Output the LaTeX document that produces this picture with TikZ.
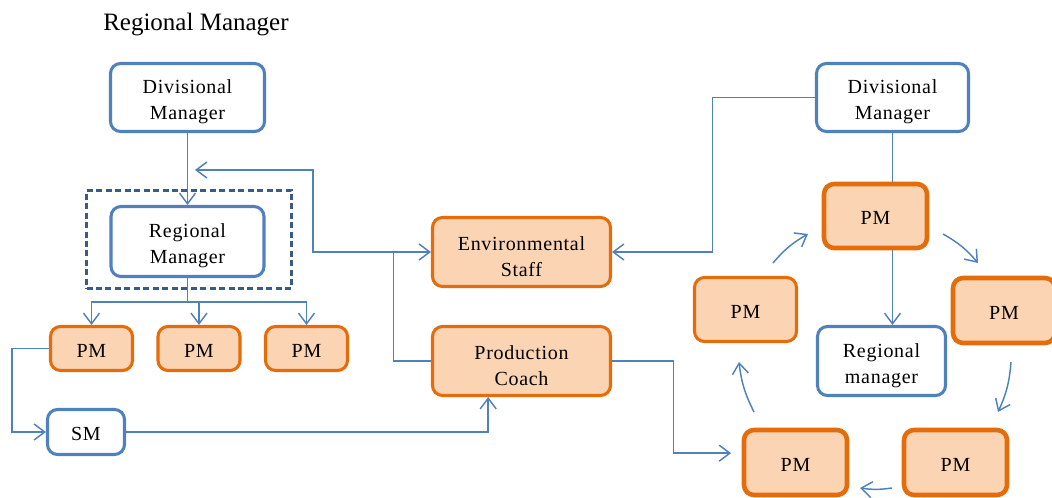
\documentclass[tikz,border=0pt]{standalone}
\usepackage{fontspec}
\setmainfont{Liberation Serif}
\newfontfamily\boxfont[LetterSpace=3.5]{Liberation Serif}
\usetikzlibrary{arrows.meta}
\definecolor{lineblue}{HTML}{4F81BD}
\definecolor{dashblue}{HTML}{3A5A88}
\definecolor{pmedge}{HTML}{E46C0A}
\definecolor{pmfill}{HTML}{FBD4B4}
% taller first line, so that two-line labels sit a little low in their boxes
\newcommand\tallstrut{\rule{0pt}{17pt}}
\newcommand\onestrut{\rule{0pt}{13pt}}
\begin{document}
\begin{tikzpicture}[x=0.75pt,y=-0.75pt,
  sz/.style 2 args={minimum width=#1*0.75pt, minimum height=#2*0.75pt},
  basebox/.style={rounded corners=7.5pt, align=center, inner sep=0pt,
    font=\boxfont\fontsize{15}{19.5}\selectfont},
  bluebox/.style={basebox, draw=lineblue, line width=2.3pt, fill=white},
  pmbox/.style={basebox, draw=pmedge, line width=2.3pt, fill=pmfill},
  pmthick/.style={pmbox, line width=3.4pt},
  group/.style={draw=dashblue, line width=2.2pt, dash pattern=on 4.5pt off 2.6pt},
  conn/.style={draw=lineblue, line width=1.1pt},
  arr/.style={conn, -{Straight Barb[length=8pt,width=12pt,line width=1.1pt]}},
]
\useasboundingbox (0,0) rectangle (1052,498);

% heading
\node[anchor=base west, inner sep=0pt, font=\fontsize{18.75}{22}\selectfont] (title) at (103,31) {Regional Manager};

% left hierarchy
\node[bluebox, sz={154}{68}] (dmL) at (187.5,97.5) {\tallstrut Divisional\\Manager};
\node[group, sz={205}{98}] (grp) at (189,239.5) {};
\node[bluebox, sz={153}{70}] (rmL) at (187.5,241.5) {\tallstrut Regional\\Manager};
\node[pmbox, sz={82}{44}] (pm1) at (91.5,348.5) {\onestrut PM};
\node[pmbox, sz={82}{44}] (pm2) at (199,348.5) {\onestrut PM};
\node[pmbox, sz={82}{44}] (pm3) at (306.5,348.5) {\onestrut PM};
\node[bluebox, sz={77}{45}] (sm) at (86,432) {\onestrut SM};

% middle
\node[pmbox, sz={178}{69}] (es) at (521.5,252) {\tallstrut Environmental\\Staff};
\node[pmbox, sz={178}{69}] (pc) at (521.5,361) {\tallstrut Production\\Coach};

% right cycle
\node[bluebox, sz={152}{68}] (dmR) at (892.5,97.5) {\tallstrut Divisional\\Manager};
\node[pmthick, sz={103}{64}] (pmT) at (875.5,216) {\onestrut PM};
\node[pmbox, sz={102}{64}] (pmL) at (745.5,309.5) {\onestrut PM};
\node[pmthick, sz={102}{65}] (pmR) at (1004,310.5) {\onestrut PM};
\node[bluebox, sz={128}{69}] (rmR) at (881.5,361) {\tallstrut Regional\\manager};
\node[pmthick, sz={103}{65}] (pmBL) at (795.5,462.5) {\onestrut PM};
\node[pmthick, sz={103}{65}] (pmBR) at (955.5,462.5) {\onestrut PM};

% junctions and free ends
\coordinate (bus) at (187.5,302);
\coordinate (j1) at (395,252);
\coordinate (fbtip) at (195,170);
\coordinate (c1a) at (773,263);  \coordinate (c1b) at (808,234);
\coordinate (c2a) at (943,234);  \coordinate (c2b) at (978,263);
\coordinate (c3a) at (1011,362); \coordinate (c3b) at (998,412);
\coordinate (c4a) at (892,488);  \coordinate (c4b) at (860,488);
\coordinate (c5a) at (754,412);  \coordinate (c5b) at (739,362);

% left connectors
\draw[arr] (dmL) -- (rmL);
\draw[conn] (rmL.south) -- (bus);
\draw[arr] (bus) -| (pm1);
\draw[arr] (bus) -| (pm2);
\draw[arr] (bus) -| (pm3);
\draw[arr] (pm1.west) -- ++(-37,0) |- (sm.west);
\draw[arr] (sm.east) -| ([xshift=-25pt]pc.south);

% middle connectors
\draw[arr] (pc.west) -- ++(-37.5,0) |- (es.west);
\draw[arr] (j1) -| (313,170) -- (fbtip);
\draw[arr] (dmR.west) -- ++(-102.5,0) |- (es.east);
\draw[arr, shorten >=8pt] (pc.east) -- ++(61.5,0) |- ([yshift=7pt]pmBL.west);

% right connectors
\draw[conn] (dmR.south) -- (dmR.south |- pmT.north);
\draw[arr] (pmT.south -| dmR.south) -- (rmR.north -| dmR.south);
\draw[arr] (c1a) to[bend left=10] (c1b);
\draw[arr] (c2a) to[bend left=10] (c2b);
\draw[arr] (c3a) to[bend left=10] (c3b);
\draw[arr] (c4a) to[bend left=8] (c4b);
\draw[arr] (c5a) to[bend left=10] (c5b);
\end{tikzpicture}
\end{document}
